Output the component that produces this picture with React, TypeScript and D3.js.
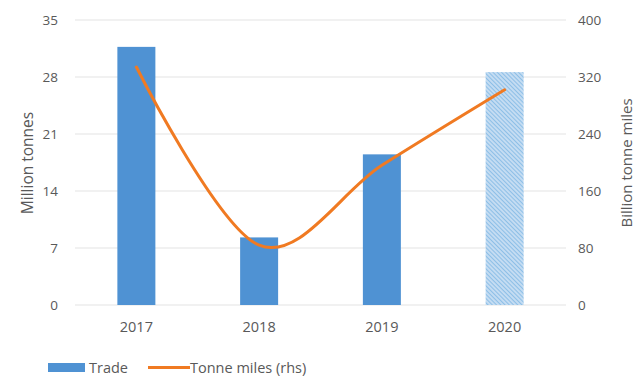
import React from "react";
import * as d3 from "d3";

const years = ["2017", "2018", "2019", "2020"];
const trade = [31.7, 8.3, 18.5, 28.6];
const tonneMiles = [334, 84, 196, 302];
const leftTicks = [0, 7, 14, 21, 28, 35];
const rightTicks = [0, 80, 160, 240, 320, 400];

export default function App() {
  const W = 640, H = 378;
  const x0 = 75, x1 = 566, yTop = 20, yBot = 305;
  const x = d3.scaleBand().domain(years).range([x0, x1]).paddingInner(0.69).paddingOuter(0.345);
  const yL = d3.scaleLinear().domain([0, 35]).range([yBot, yTop]);
  const yR = d3.scaleLinear().domain([0, 400]).range([yBot, yTop]);
  const bw = 38;
  const cx = (d: string) => (x(d) as number) + x.bandwidth() / 2;
  const line = d3.line<number>().x((_, i) => cx(years[i])).y((d) => yR(d)).curve(d3.curveCardinal.tension(0));
  const txt = "#595959";
  const font = "'Open Sans', sans-serif";
  return (
    <svg width={W} height={H} style={{ position: "absolute", left: 0, top: 0, background: "#fff" }} fontFamily={font}>
      <defs>
        <pattern id="hatch" patternUnits="userSpaceOnUse" width="3" height="3" patternTransform="rotate(-45)">
          <rect width="3" height="3" fill="#c4dcf2" />
          <line x1="0" y1="0" x2="0" y2="3" stroke="#6fb0e2" strokeWidth="1.3" />
        </pattern>
      </defs>
      {leftTicks.map((t) => (
        <line key={"g" + t} x1={x0} x2={x1} y1={yL(t)} y2={yL(t)} stroke="#e3e3e3" strokeWidth={1} />
      ))}
      {leftTicks.map((t) => (
        <text key={"l" + t} x={58} y={yL(t)} dy="0.35em" textAnchor="end" fontSize={13.5} fill={txt}>{t}</text>
      ))}
      {rightTicks.map((t) => (
        <text key={"r" + t} x={578} y={yR(t)} dy="0.35em" textAnchor="start" fontSize={13.5} fill={txt}>{t}</text>
      ))}
      {years.map((y, i) => (
        <rect key={y} x={cx(y) - bw / 2} width={bw} y={yL(trade[i])} height={yBot - yL(trade[i])}
          fill={i === 3 ? "url(#hatch)" : "#4f92d3"} />
      ))}
      {years.map((y) => (
        <text key={"x" + y} x={cx(y)} y={332} textAnchor="middle" fontSize={14.5} fill={txt}>{y}</text>
      ))}
      <path d={line(tonneMiles) || ""} fill="none" stroke="#f07a22" strokeWidth={3} strokeLinecap="round" />
      <text transform="translate(33,163) rotate(-90)" textAnchor="middle" fontSize={15.5} fill={txt}>Million tonnes</text>
      <text transform="translate(632,163) rotate(-90)" textAnchor="middle" fontSize={15} fill={txt}>Billion tonne miles</text>
      <rect x={48} y={363} width={37} height={9} fill="#4f92d3" />
      <text x={89} y={373} fontSize={14.5} fill={txt}>Trade</text>
      <line x1={148} x2={190} y1={367.5} y2={367.5} stroke="#f07a22" strokeWidth={3} />
      <text x={190} y={373} fontSize={14.5} fill={txt}>Tonne miles (rhs)</text>
    </svg>
  );
}
